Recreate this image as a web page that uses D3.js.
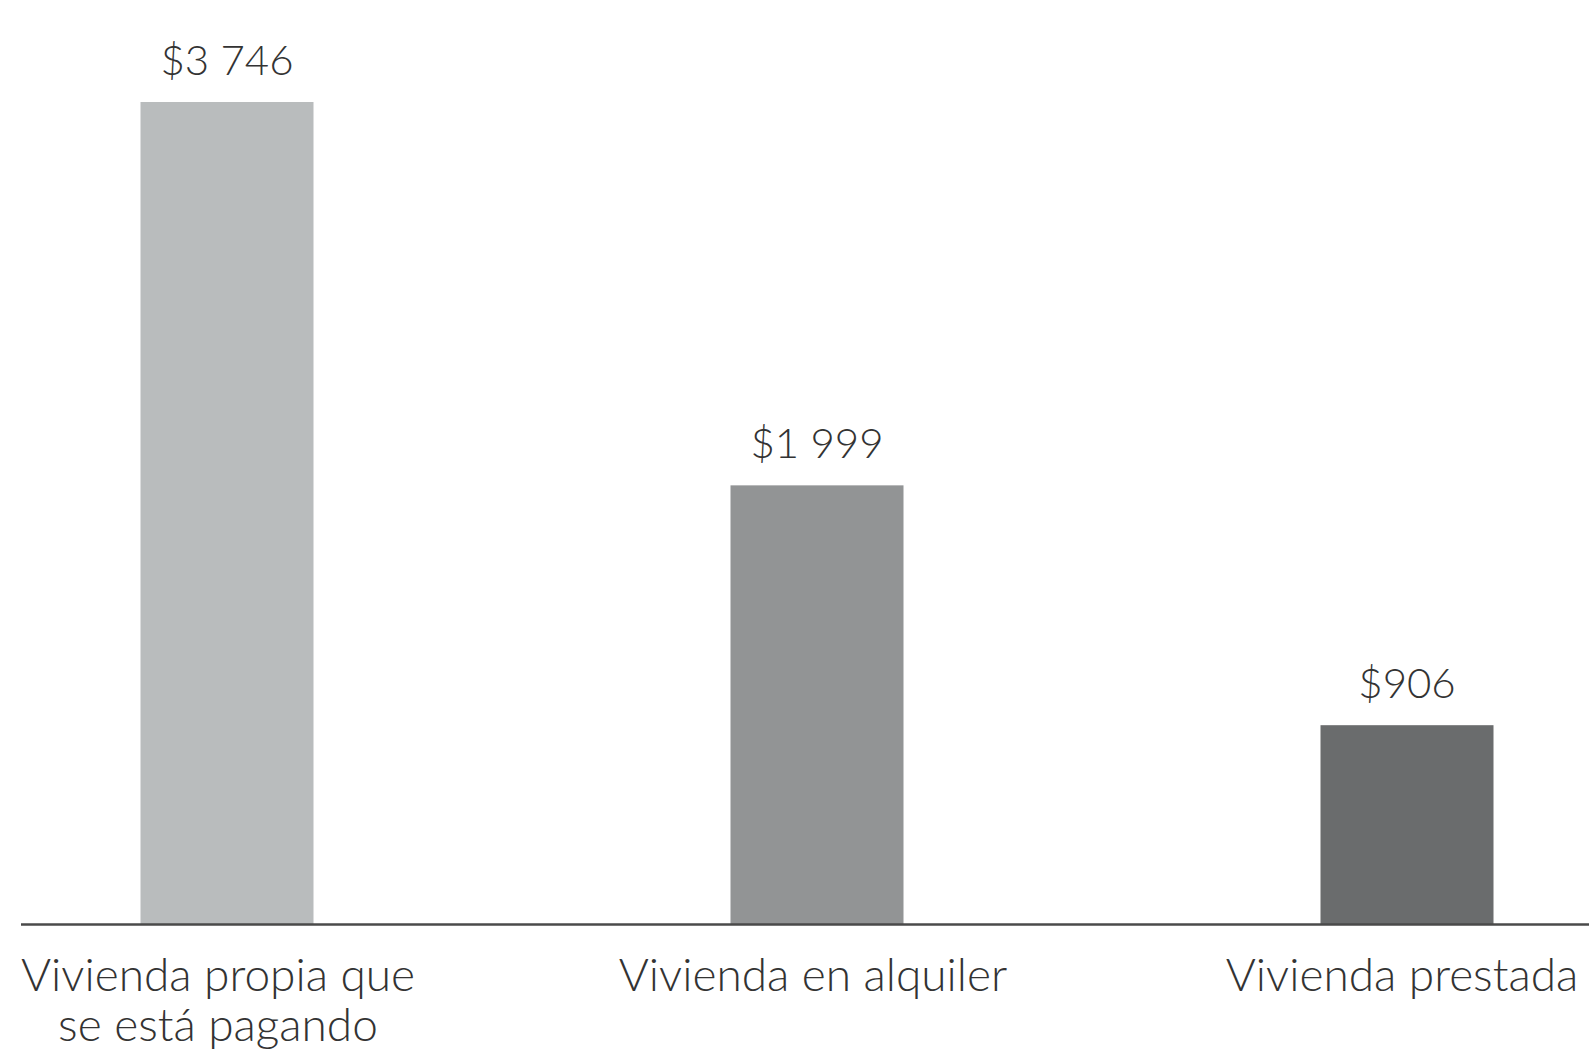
<!DOCTYPE html>
<html><head><meta charset="utf-8">
<script src="https://cdn.jsdelivr.net/npm/d3@7"></script>
<style>body{margin:0;background:#fff}svg{display:block}</style>
</head><body>
<svg id="c" width="1589" height="1052"></svg>
<script>
const categories = [["Vivienda propia que", "se está pagando"], ["Vivienda en alquiler"], ["Vivienda prestada"]];
const values = [3746, 1999, 906];
const valueLabels = ["$3 746", "$1 999", "$906"];
const colors = ["#b9bcbd", "#929495", "#6a6c6d"];

const svg = d3.select("#c");
const keys = categories.map((c, i) => i);
const x = d3.scalePoint().domain(keys).range([-68, 1702]).padding(0.5);
const y = d3.scaleLinear().domain([0, 3746]).range([924, 102]);
const bw = 173;
const font = "Lato, 'Open Sans', sans-serif";

svg.selectAll("rect.bar").data(values).join("rect")
  .attr("class", "bar")
  .attr("x", (d, i) => x(i) - bw / 2)
  .attr("width", bw)
  .attr("y", d => y(d))
  .attr("height", d => y(0) - y(d))
  .attr("fill", (d, i) => colors[i]);

svg.append("line").attr("x1", 21).attr("x2", 1589)
  .attr("y1", y(0) + 0.5).attr("y2", y(0) + 0.5)
  .attr("stroke", "#4a4a4a").attr("stroke-width", 2.5);

svg.selectAll("text.val").data(values).join("text")
  .attr("class", "val")
  .attr("x", (d, i) => x(i))
  .attr("y", d => y(d) - 27)
  .attr("text-anchor", "middle")
  .attr("font-family", font).attr("font-weight", 300)
  .attr("font-size", 42).attr("fill", "#333")
  .text((d, i) => valueLabels[i]);

const labelShift = [-9, -4, -5];
const lab = svg.selectAll("text.cat").data(categories).join("text")
  .attr("class", "cat")
  .attr("text-anchor", "middle")
  .attr("font-family", font).attr("font-weight", 300)
  .attr("font-size", 46).attr("fill", "#333");
lab.each(function(lines, i) {
  d3.select(this).selectAll("tspan").data(lines).join("tspan")
    .attr("x", x(i) + labelShift[i])
    .attr("y", (d, j) => 991 + j * 50)
    .text(d => d);
});
</script>
</body></html>
